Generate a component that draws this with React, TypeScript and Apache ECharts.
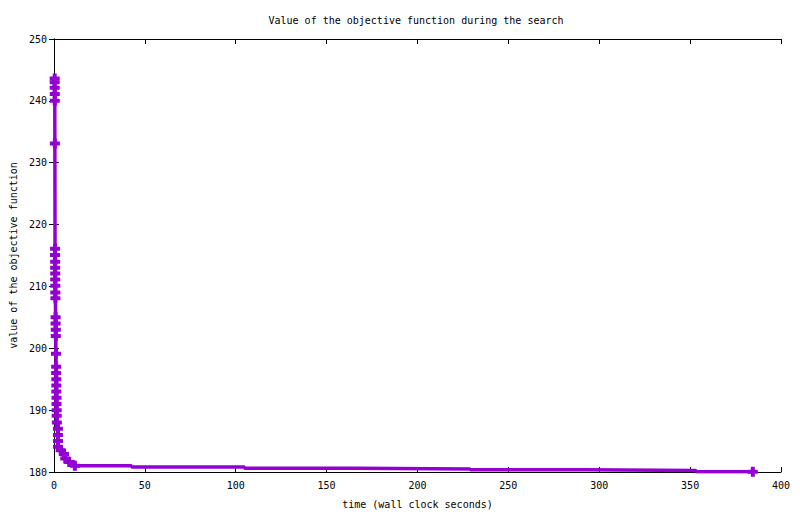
import React, { useEffect, useRef } from "react";
import * as echarts from "echarts";

const titleText = "Value of the objective function during the search";
const xName = "time (wall clock seconds)";
const yName = "value of the objective function";

// points drawn with "+" markers (time in s, objective value)
const markX = [0.4, 0.4, 0.4, 0.45, 0.45, 0.5, 0.6, 0.6, 0.65, 0.65, 0.7, 0.7, 0.75, 0.75, 0.8, 0.9, 0.9, 1.0, 1.0, 1.1, 1.2, 1.2, 1.3, 1.3, 1.3, 1.4, 1.4, 1.5, 1.5, 1.6, 2.2, 2.2, 2.2, 2.2, 3.7, 5.5, 6.2, 8.4, 11.5];
const markY = [243.6, 243.0, 242.1, 241.1, 240.0, 233.1, 216.1, 215.1, 214.0, 213.0, 212.1, 211.1, 210.1, 209.0, 208.1, 205.0, 204.0, 203.0, 202.0, 199.1, 197.0, 196.0, 195.0, 194.0, 193.0, 192.0, 191.0, 190.0, 189.1, 188.0, 187.0, 186.0, 185.0, 184.1, 183.5, 182.9, 182.2, 181.6, 181.0];

// later improvements along the flat tail (line only)
const tailX = [42.7, 104.8, 166.0, 229.0, 292.0, 353.3];
const tailY = [180.8, 180.6, 180.5, 180.35, 180.25, 180.05];

// final point (marked)
const endX = [384.5];
const endY = [180.05];

const xTicks = { min: 0, max: 400, interval: 50 };
const yTicks = { min: 180, max: 250, interval: 10 };

const COLOR = "#9400D3";
const FONT = "DejaVu Sans Mono";
const PLUS = "path://M3,0H7V3H10V7H7V10H3V7H0V3H3Z";

export default function App() {
  const ref = useRef<HTMLDivElement>(null);
  useEffect(() => {
    if (!ref.current) return;
    const chart = echarts.init(ref.current, undefined, { renderer: "svg" });
    const markPts = markX.map((x, i) => [x, markY[i]]);
    const tailPts = tailX.map((x, i) => [x, tailY[i]]);
    const endPts = endX.map((x, i) => [x, endY[i]]);
    const linePts = [...markPts, ...tailPts, ...endPts];
    const axisLine = { show: true, lineStyle: { color: "#000", width: 1 } };
    const axisTick = { show: true, inside: true, length: 5, lineStyle: { color: "#000" } };
    const label = { fontFamily: FONT, fontSize: 10, color: "#000" };
    chart.setOption({
      animation: false,
      backgroundColor: "#fff",
      title: {
        text: titleText,
        left: 411,
        top: 10,
        textAlign: "center",
        textStyle: { fontFamily: FONT, fontSize: 10, fontWeight: "normal", color: "#000" },
      },
      grid: { left: 52, right: 19, top: 39, bottom: 42 },
      xAxis: [
        {
          type: "value",
          ...xTicks,
          name: xName,
          nameLocation: "middle",
          nameGap: 27,
          nameTextStyle: label,
          axisLine,
          axisTick,
          axisLabel: { ...label, margin: 8 },
          splitLine: { show: false },
        },
        {
          type: "value",
          position: "top",
          ...xTicks,
          axisLine,
          axisTick,
          axisLabel: { show: false },
          splitLine: { show: false },
        },
      ],
      yAxis: [
        {
          type: "value",
          ...yTicks,
          name: yName,
          nameLocation: "middle",
          nameGap: 35,
          nameTextStyle: label,
          axisLine,
          axisTick,
          axisLabel: { ...label, margin: 7 },
          splitLine: { show: false },
        },
        {
          type: "value",
          position: "right",
          ...yTicks,
          axisLine,
          axisTick,
          axisLabel: { show: false },
          splitLine: { show: false },
        },
      ],
      series: [
        {
          type: "line",
          step: "end",
          data: linePts,
          showSymbol: false,
          lineStyle: { color: COLOR, width: 3.5 },
          itemStyle: { color: COLOR },
        },
        {
          type: "scatter",
          data: [...markPts, ...endPts],
          symbol: PLUS,
          symbolSize: [10, 10],
          itemStyle: { color: COLOR, opacity: 1 },
        },
      ],
    });
    return () => chart.dispose();
  }, []);
  return <div ref={ref} style={{ position: "fixed", left: 0, top: 0, width: 800, height: 514 }} />;
}
